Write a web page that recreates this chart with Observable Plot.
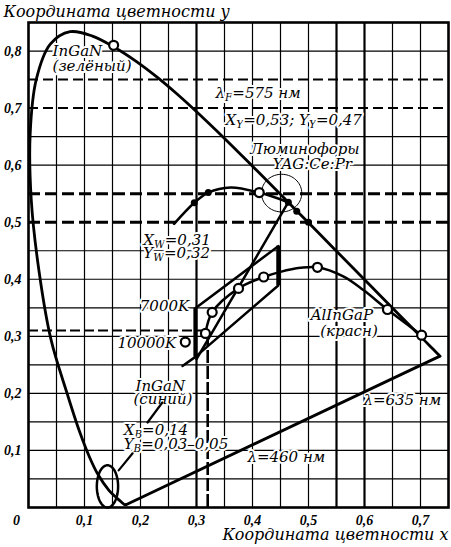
<!DOCTYPE html>
<html><head><meta charset="utf-8">
<script src="https://cdn.jsdelivr.net/npm/d3@7"></script>
<script src="https://cdn.jsdelivr.net/npm/@observablehq/plot@0.6"></script>
<style>body{margin:0;background:#fff} svg{display:block}</style>
</head><body><div id="chart"></div>
<script>
// Spectral locus (close to CIE 1931)
const locusX = [0.1741,0.1714,0.1644,0.1566,0.1440,0.1241,0.1096,0.0913,0.0687,0.0400,0.0190,0.0050,0.0030,0.0139,0.0389,0.0743,0.1142,0.1547,0.1929,0.2296,0.2658,0.3016,0.3373,0.3731,0.4087,0.4441,0.4788,0.5125,0.5448,0.5752,0.6029,0.6270,0.6658,0.6915,0.7079,0.7190,0.7300,0.7347];
const locusY = [0.0050,0.0051,0.0109,0.0177,0.0297,0.0578,0.0868,0.1327,0.2007,0.2950,0.4127,0.5384,0.6548,0.7502,0.8120,0.8338,0.8262,0.8059,0.7816,0.7543,0.7243,0.6923,0.6589,0.6245,0.5896,0.5547,0.5202,0.4866,0.4544,0.4242,0.3965,0.3725,0.3340,0.3083,0.2920,0.2809,0.2700,0.2653];
// purple line
const purpleX = [0.1741, 0.7347];
const purpleY = [0.0050, 0.2653];
// phosphor curve YAG:Ce:Pr
const phosX = [0.260, 0.296, 0.321, 0.361, 0.412, 0.464];
const phosY = [0.497, 0.534, 0.552, 0.561, 0.552, 0.535];
// filled points
const filledX = [0.296, 0.321, 0.464, 0.479, 0.500];
const filledY = [0.534, 0.552, 0.535, 0.519, 0.500];
// white-light / AlInGaP curve
const curveX = [0.316, 0.328, 0.375, 0.420, 0.450, 0.486, 0.516, 0.562, 0.598, 0.641, 0.702];
const curveY = [0.305, 0.342, 0.384, 0.404, 0.413, 0.420, 0.421, 0.405, 0.381, 0.347, 0.302];
// open circles
const openX = [0.152, 0.412, 0.280, 0.316, 0.328, 0.375, 0.420, 0.516, 0.641, 0.702];
const openY = [0.810, 0.552, 0.290, 0.305, 0.342, 0.384, 0.404, 0.421, 0.347, 0.302];
// mixing line blue -> yellow
const mixX = [0.300, 0.464];
const mixY = [0.260, 0.535];
// parallelogram (7000K region)
const quadX = [0.298, 0.446, 0.446, 0.298, 0.298];
const quadY = [0.349, 0.458, 0.389, 0.264, 0.349];
const quadExtX = [0.298, 0.275];
const quadExtY = [0.264, 0.248];
const sideX = [0.298, 0.446];
const sideY1 = [0.264, 0.389];
const sideY2 = [0.349, 0.458];
// leaders
const leaders = [
  [[0.239,0.184],[0.2125,0.149]],
  [[0.186,0.095],[0.161,0.065]]
];
// ellipses [cx, cy, rx, ry, width]
const ellipses = [[0.141, 0.037, 0.019, 0.037, 2.5],[0.452, 0.551, 0.036, 0.033, 1]];
// reference dashed lines
const dashThin = [0.75, 0.70];
const dashThick = [0.55, 0.50];
const whiteX = [0.32], whiteY = [0.31];
// grid
const gridThinX = [0.05,0.1,0.15,0.2,0.25,0.35,0.4,0.45,0.5,0.65,0.7];
const gridThickX = [0.3,0.55,0.6];
const gridY = [0.05,0.1,0.15,0.2,0.25,0.3,0.35,0.4,0.45,0.6,0.65,0.8];
// ticks
const xTicks = [0.1,0.2,0.3,0.4,0.5,0.6,0.7];
const xTickLabels = ["0,1","0,2","0,3","0,4","0,5","0,6","0,7"];
const yTicks = [0.1,0.2,0.3,0.4,0.5,0.6,0.7,0.8];
const yTickLabels = ["0,1","0,2","0,3","0,4","0,5","0,6","0,7","0,8"];
// labels
const labText = ["InGaN","(зелёный)","λ[F]=575 нм","X[Y]=0,53; Y[Y]=0,47","Люминофоры","YAG:Ce:Pr","X[W]=0,31","Y[W]=0,32","AlInGaP","(красн)","InGaN","(синий)","X[B]=0,14","Y[B]=0,03–0,05","λ=460 нм","λ=635 нм"];
const labX = [0.043,0.043,0.334,0.352,0.396,0.436,0.205,0.205,0.504,0.521,0.191,0.1875,0.170,0.170,0.391,0.598];
const labY = [0.800,0.774,0.726,0.679,0.628,0.602,0.468,0.446,0.337,0.309,0.212,0.189,0.135,0.111,0.089,0.188];
const tempText = ["7000K","10000K"];
const tempX = [0.287, 0.264];
const tempY = [0.353, 0.288];

const pts = (xs, ys) => xs.map((x, i) => ({x, y: ys[i]}));
const ellPts = ([cx, cy, rx, ry]) => d3.range(0, 365, 5).map(a => ({x: cx + rx*Math.cos(a*Math.PI/180), y: cy + ry*Math.sin(a*Math.PI/180)}));
const labels = labText.map((t,i)=>({t, x: labX[i], y: labY[i]}));
const serif = "DejaVu Serif";
const tickFont = "Liberation Serif";

const chart = Plot.plot({
  width: 451, height: 547,
  marginLeft: 28, marginRight: 3, marginTop: 22, marginBottom: 40,
  x: {domain: [0, 0.75], axis: null},
  y: {domain: [0, 0.85], axis: null},
  style: {background: "white"},
  marks: [
    Plot.ruleX(gridThinX, {stroke: "black", strokeWidth: 1.2}),
    Plot.ruleX(gridThickX, {stroke: "black", strokeWidth: 2.2}),
    Plot.ruleY(gridY, {stroke: "black", strokeWidth: 1.2}),
    Plot.ruleY(dashThin, {stroke: "black", strokeWidth: 2, strokeDasharray: "10,5"}),
    Plot.ruleY(dashThick, {stroke: "black", strokeWidth: 3, strokeDasharray: "12,5"}),
    Plot.ruleY(whiteY, {x1: 0, x2: whiteX[0], stroke: "black", strokeWidth: 2, strokeDasharray: "10,4"}),
    Plot.ruleX(whiteX, {y1: 0, y2: whiteY[0], stroke: "black", strokeWidth: 2.6, strokeDasharray: "13,3"}),
    Plot.text(labels, {x: "x", y: "y", text: "t", textAnchor: "start", fontSize: 15, fontFamily: serif, fontStyle: "italic", fill: "black", stroke: "white", strokeWidth: 4}),
    Plot.text(tempText, {x: (d,i)=>tempX[i], y: (d,i)=>tempY[i], text: d=>d, textAnchor: "end", fontSize: 15, fontFamily: serif, fontStyle: "italic", fill: "black", stroke: "white", strokeWidth: 4}),
    Plot.line(pts(locusX, locusY), {x: "x", y: "y", stroke: "black", strokeWidth: 2.8, curve: "catmull-rom"}),
    Plot.line(pts(purpleX, purpleY), {x: "x", y: "y", stroke: "black", strokeWidth: 2.8}),
    Plot.line(pts(phosX, phosY), {x: "x", y: "y", stroke: "black", strokeWidth: 2.5, curve: "catmull-rom"}),
    Plot.line(pts(curveX, curveY), {x: "x", y: "y", stroke: "black", strokeWidth: 2.5, curve: "catmull-rom"}),
    Plot.line(pts(mixX, mixY), {x: "x", y: "y", stroke: "black", strokeWidth: 2.5}),
    Plot.line(pts(quadX, quadY), {x: "x", y: "y", stroke: "black", strokeWidth: 2.5}),
    Plot.line(pts(quadExtX, quadExtY), {x: "x", y: "y", stroke: "black", strokeWidth: 2.5}),
    Plot.ruleX(sideX, {y1: (d,i)=>sideY1[i], y2: (d,i)=>sideY2[i], stroke: "black", strokeWidth: 4}),
    ...leaders.map(l => Plot.line(l, {x: d=>d[0], y: d=>d[1], stroke: "black", strokeWidth: 2.2})),
    ...ellipses.map(e => Plot.line(ellPts(e), {x: "x", y: "y", stroke: "black", strokeWidth: e[4]})),
    Plot.dot(pts(filledX, filledY), {x: "x", y: "y", r: 3.5, fill: "black"}),
    Plot.dot(pts(openX, openY), {x: "x", y: "y", r: 4.5, fill: "white", stroke: "black", strokeWidth: 2.2}),
    Plot.frame({stroke: "black", strokeWidth: 2.6}),
    Plot.text(xTicks, {x: d=>d, y: 0, text: (d,i)=>xTickLabels[i], dy: 13, fontSize: 14, fontFamily: tickFont, fontStyle: "italic", fontWeight: "bold"}),
    Plot.text(["0"], {x: 0, y: 0, text: d=>d, dx: -12, dy: 13, fontSize: 14, fontFamily: tickFont, fontStyle: "italic", fontWeight: "bold"}),
    Plot.text(yTicks, {x: 0, y: d=>d, text: (d,i)=>yTickLabels[i], dx: -7, textAnchor: "end", fontSize: 14, fontFamily: tickFont, fontStyle: "italic", fontWeight: "bold"}),
    Plot.text(["Координата цветности y"], {x: 0, y: 0.85, text: d=>d, dx: -25, dy: -11, textAnchor: "start", fontSize: 16, fontFamily: serif, fontStyle: "italic"}),
    Plot.text(["Координата цветности x"], {x: 0.75, y: 0, text: d=>d, dy: 27, textAnchor: "end", fontSize: 16, fontFamily: serif, fontStyle: "italic"})
  ]
});

// subscripts: "[..]" -> subscript tspans
chart.querySelectorAll("text").forEach(t => {
  const s = t.textContent;
  if (!s.includes("[")) return;
  t.textContent = "";
  let sub = false;
  for (const p of s.split(/(\[[^\]]*\])/)) {
    if (!p) continue;
    const ts = document.createElementNS("http://www.w3.org/2000/svg", "tspan");
    if (p.startsWith("[")) {
      ts.textContent = p.slice(1, -1);
      ts.setAttribute("font-size", "70%");
      ts.setAttribute("dy", "3");
      sub = true;
    } else {
      ts.textContent = p;
      if (sub) { ts.setAttribute("dy", "-3"); sub = false; }
    }
    t.appendChild(ts);
  }
});
document.getElementById("chart").appendChild(chart);
</script>
</body></html>
